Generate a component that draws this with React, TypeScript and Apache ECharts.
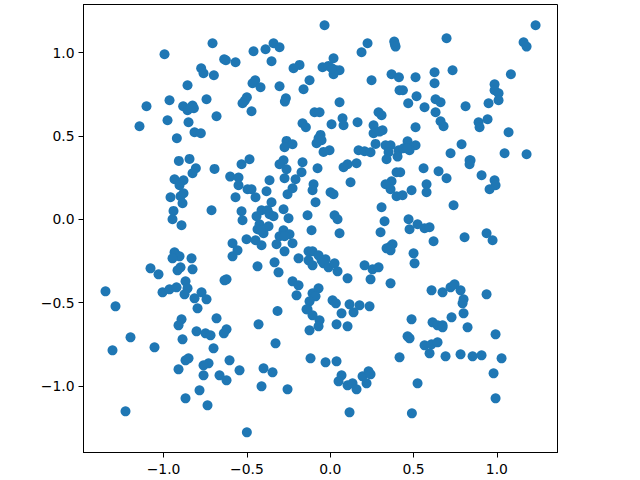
import React, { useEffect, useRef } from "react";
import * as echarts from "echarts";

const xTicks = [-1, -0.5, 0, 0.5, 1];
const yTicks = [-1, -0.5, 0, 0.5, 1];

const upperLeft = [
  [-0.706,1.056],[-0.994,0.99],[-0.636,0.96],[-0.626,0.954],[-0.568,0.942],[-0.774,0.906],[-0.76,0.876],[-0.698,0.864],
  [-0.856,0.804],[-0.964,0.714],[-0.742,0.72],[-1.102,0.678],[-0.882,0.678],[-0.826,0.682],[-0.818,0.666],[-0.856,0.654],
  [-0.836,0.67],[-0.682,0.618],[-0.976,0.594],[-1.144,0.558],[-0.85,0.582],[-0.814,0.522],[-0.776,0.516],[-0.92,0.486],
  [-0.844,0.362],[-0.908,0.35],
];
const upperMiddle = [
  [-0.034,1.164],[-0.34,1.056],[-0.304,1.032],[-0.388,1.02],[-0.46,1.008],[-0.352,0.948],[0.224,1.056],[0.188,1.002],
  [0.384,1.066],[0.388,1.05],[0.392,1.036],[0.02,0.966],[-0.184,0.926],[-0.22,0.906],[-0.046,0.912],[-0.01,0.92],
  [0.03,0.896],[0.056,0.894],[0.02,0.87],[0.01,0.906],[-0.124,0.834],[0.248,0.834],[0.368,0.87],[0.412,0.852],
  [-0.45,0.834],[-0.466,0.816],[-0.418,0.792],[-0.304,0.798],[-0.16,0.78],[0.416,0.774],[0.436,0.774],[-0.5,0.732],
  [-0.512,0.712],[-0.526,0.696],[-0.266,0.726],[-0.272,0.706],[0.056,0.702],[0.468,0.696],[-0.472,0.648],[-0.094,0.642],
  [-0.064,0.642],[0.29,0.642],[0.308,0.624],[0.074,0.606],[0.08,0.564],[0.008,0.57],[0.164,0.582],[0.26,0.564],
  [-0.166,0.576],[-0.146,0.552],[0.314,0.534],[0.26,0.516],[0.296,0.526],[-0.058,0.506],[-0.07,0.486],[-0.052,0.474],
  [-0.082,0.456],[-0.262,0.47],[-0.226,0.45],[-0.274,0.432],[0.272,0.452],[-0.004,0.414],[-0.04,0.404],[0.17,0.414],
  [0.206,0.408],[0.242,0.402],[0.332,0.444],[0.362,0.444],[0.35,0.402],[0.41,0.414],[0.464,0.468],[0.47,0.42],[0.404,0.376],[0.44,0.426],
];
const upperRight = [
  [1.232,1.164],[0.698,1.086],[1.16,1.062],[1.178,1.036],[0.512,0.852],[0.626,0.882],[0.734,0.894],[0.626,0.816],
  [1.084,0.87],[0.986,0.81],[0.986,0.774],[1.01,0.756],[1.01,0.714],[0.95,0.696],[0.812,0.678],[0.518,0.738],
  [0.632,0.72],[0.662,0.702],[0.566,0.672],[0.632,0.642],[0.662,0.588],[0.68,0.558],[0.512,0.552],[0.89,0.582],
  [0.896,0.552],[0.944,0.6],[1.07,0.522],[0.788,0.45],[0.722,0.396],[1.046,0.396],[1.178,0.39],[0.842,0.354],
  [0.512,0.444],[0.476,0.414],[0.46,0.426],
];
const middleLeft = [
  [-0.532,0.33],[-0.694,0.302],[-0.806,0.306],[-0.826,0.276],[-0.6,0.256],[-0.55,0.25],[-0.55,0.204],[-0.934,0.24],
  [-0.88,0.234],[-0.904,0.204],[-0.958,0.132],[-0.88,0.156],[-0.898,0.138],[-0.886,0.096],[-0.568,0.132],[-0.94,0.05],
  [-0.946,0],[-0.892,-0.036],[-0.712,0.054],[-0.532,0.048],[-0.526,-0.006],[-0.586,-0.144],[-0.556,-0.186],[-0.586,-0.222],
  [-0.934,-0.198],[-0.928,-0.21],[-0.904,-0.222],[-0.946,-0.234],[-0.832,-0.234],[-0.898,-0.288],[-0.916,-0.306],[-0.826,-0.3],
  [-1.078,-0.294],[-1.03,-0.33],[-0.622,-0.36],[-0.634,-0.366],[-0.868,-0.372],[-1.348,-0.432],[-1.288,-0.522],[-1.006,-0.438],
  [-0.964,-0.42],[-0.922,-0.408],[-0.856,-0.414],[-0.874,-0.45],[-0.772,-0.438],[-0.814,-0.474],[-0.742,-0.48],[-0.796,-0.534],
];
const middleCentre = [
  [-0.484,0.36],[-0.28,0.354],[-0.304,0.33],[-0.262,0.3],[-0.166,0.342],[-0.172,0.282],[-0.076,0.306],[0.104,0.33],
  [0.08,0.312],[0.158,0.336],[-0.274,0.246],[-0.208,0.24],[-0.364,0.234],[-0.1,0.21],[-0.106,0.174],[0.122,0.222],
  [-0.226,0.186],[-0.256,0.15],[-0.496,0.18],[-0.472,0.18],[-0.382,0.168],[-0.448,0.132],[0.002,0.162],[0.02,0.15],
  [-0.088,0.102],[-0.352,0.102],[-0.28,0.06],[-0.412,0.054],[-0.376,0.054],[-0.364,0.03],[-0.442,0.018],[-0.34,0.018],
  [-0.25,0.006],[-0.136,0.024],[0.026,0.024],[0.044,0],[-0.424,-0.03],[-0.37,-0.042],[-0.436,-0.06],[-0.4,-0.084],
  [-0.418,-0.066],[-0.112,-0.066],[0.056,-0.084],[-0.28,-0.066],[-0.244,-0.09],[-0.304,-0.102],[-0.274,-0.102],[-0.502,-0.12],
  [-0.448,-0.126],[-0.412,-0.156],[-0.322,-0.15],[-0.226,-0.144],[-0.274,-0.192],[-0.13,-0.192],[-0.106,-0.192],[-0.07,-0.216],
  [-0.19,-0.234],[-0.13,-0.246],[-0.106,-0.276],[-0.052,-0.246],[-0.028,-0.24],[-0.04,-0.264],[-0.01,-0.288],[0.026,-0.264],
  [0.044,-0.312],[0.104,-0.354],[-0.436,-0.282],[-0.334,-0.258],[-0.31,-0.318],[-0.226,-0.372],[-0.19,-0.396],[-0.202,-0.456],
  [-0.07,-0.414],[-0.106,-0.444],[-0.088,-0.462],[-0.124,-0.492],[-0.136,-0.54],[0.014,-0.486],[0.034,-0.504],[0.116,-0.51],
  [0.176,-0.516],[0.236,-0.522],[0.206,-0.276],[0.254,-0.3],[0.29,-0.288],[0.242,-0.36],[0.362,-0.384],[0.308,0.072],
  [0.326,-0.012],[0.302,-0.078],[0.374,-0.15],[0.362,-0.162],[0.338,-0.174],[0.362,-0.186],[0.398,0.282],[0.368,0.228],
  [0.332,0.21],[0.362,0.18],[0.398,0.138],[0.338,0.36],
];
const middleRight = [
  [0.56,0.306],[0.65,0.288],[0.698,0.246],[0.836,0.354],[0.836,0.33],[0.908,0.264],[0.986,0.234],[0.992,0.204],
  [0.956,0.18],[0.578,0.21],[0.578,0.162],[0.488,0.174],[0.434,0.144],[0.74,0.084],[0.47,0],[0.524,-0.03],
  [0.476,-0.06],[0.566,-0.054],[0.596,-0.048],[0.62,-0.132],[0.806,-0.108],[0.938,-0.084],[0.974,-0.126],[0.5,-0.204],
  [0.506,-0.264],[0.608,-0.426],[0.674,-0.438],[0.722,-0.408],[0.746,-0.39],[0.782,-0.426],[0.8,-0.48],[0.794,-0.504],
  [0.938,-0.45],[0.42,0.282],
];
const lowerLeft = [
  [-0.892,-0.6],[-0.91,-0.636],[-0.682,-0.594],[-0.802,-0.672],[-0.748,-0.684],[-0.718,-0.696],[-0.622,-0.66],[-0.638,-0.684],
  [-1.198,-0.708],[-0.886,-0.72],[-1.306,-0.786],[-1.054,-0.768],[-0.7,-0.774],[-0.85,-0.834],[-0.868,-0.846],[-0.73,-0.864],
  [-0.76,-0.876],[-0.604,-0.846],[-0.91,-0.9],[-0.544,-0.906],[-0.76,-0.936],[-0.664,-0.936],[-0.622,-0.966],[-0.784,-1.026],
  [-0.868,-1.074],[-0.736,-1.116],[-1.228,-1.152],[-0.5,-1.278],
];
const lowerMiddle = [
  [-0.43,-0.63],[-0.328,-0.744],[-0.316,-0.55],[-0.4,-0.894],[-0.346,-0.918],[-0.412,-1.002],[-0.256,-1.02],[-0.118,-0.834],
  [-0.028,-0.858],[0.038,-0.852],[0.068,-0.936],[0.05,-0.972],[0.104,-0.996],[0.134,-0.984],[0.158,-1.02],[0.194,-0.942],
  [0.23,-0.912],[0.242,-0.93],[0.218,-0.984],[0.116,-1.158],[0.416,-0.828],[0.464,-0.702],[0.476,-0.714],[0.488,-0.6],
  [0.49,-1.164],[0.068,-0.564],[0.14,-0.558],[0.038,-0.63],[0.104,-0.642],[-0.064,-0.606],[-0.07,-0.642],[-0.106,-0.576],
  [-0.124,-0.666],[-0.142,-0.54],
];
const lowerRight = [
  [0.614,-0.618],[0.644,-0.636],[0.674,-0.636],[0.674,-0.648],[0.728,-0.588],[0.8,-0.564],[0.824,-0.648],[0.992,-0.69],
  [0.566,-0.756],[0.608,-0.75],[0.644,-0.738],[0.596,-0.804],[0.692,-0.822],[0.782,-0.81],[0.854,-0.822],[0.908,-0.816],
  [1.028,-0.834],[0.98,-0.924],[0.524,-0.984],[0.992,-1.074],
];

const points = [
  ...upperLeft, ...upperMiddle, ...upperRight,
  ...middleLeft, ...middleCentre, ...middleRight,
  ...lowerLeft, ...lowerMiddle, ...lowerRight,
];

const tickText = (v: number) => v.toFixed(1).replace("-", "\u2212");

export default function App() {
  const ref = useRef<HTMLDivElement>(null);
  useEffect(() => {
    const chart = echarts.init(ref.current!, null, { renderer: "svg" });
    const axisCommon = {
      type: "value",
      splitLine: { show: false },
      axisLine: { show: true, onZero: false, lineStyle: { color: "#000", width: 1 } },
    };
    const labelCommon = { color: "#000", fontFamily: "DejaVu Sans", fontSize: 13.9, formatter: tickText };
    const tickCommon = { show: true, length: 5, lineStyle: { color: "#000", width: 1 } };
    chart.setOption({
      animation: false,
      backgroundColor: "#fff",
      grid: {
        show: true, borderColor: "#000", borderWidth: 1, backgroundColor: "#fff",
        left: 83.5, right: 82.5, top: 4.5, bottom: 27.5, containLabel: false,
      },
      xAxis: {
        ...axisCommon, position: "bottom", min: -1.48, max: 1.3635,
        axisTick: { ...tickCommon, customValues: xTicks },
        axisLabel: { ...labelCommon, margin: 9, customValues: xTicks },
      },
      yAxis: {
        ...axisCommon, position: "left", min: -1.399, max: 1.2885,
        axisTick: { ...tickCommon, customValues: yTicks },
        axisLabel: { ...labelCommon, margin: 9, customValues: yTicks },
      },
      series: [{
        type: "scatter",
        data: points,
        symbol: "circle",
        symbolSize: 10,
        itemStyle: { color: "#1f77b4", opacity: 1 },
        clip: false,
      }],
    });
    return () => chart.dispose();
  }, []);
  return <div ref={ref} style={{ position: "absolute", left: 0, top: 0, width: 640, height: 480 }} />;
}
